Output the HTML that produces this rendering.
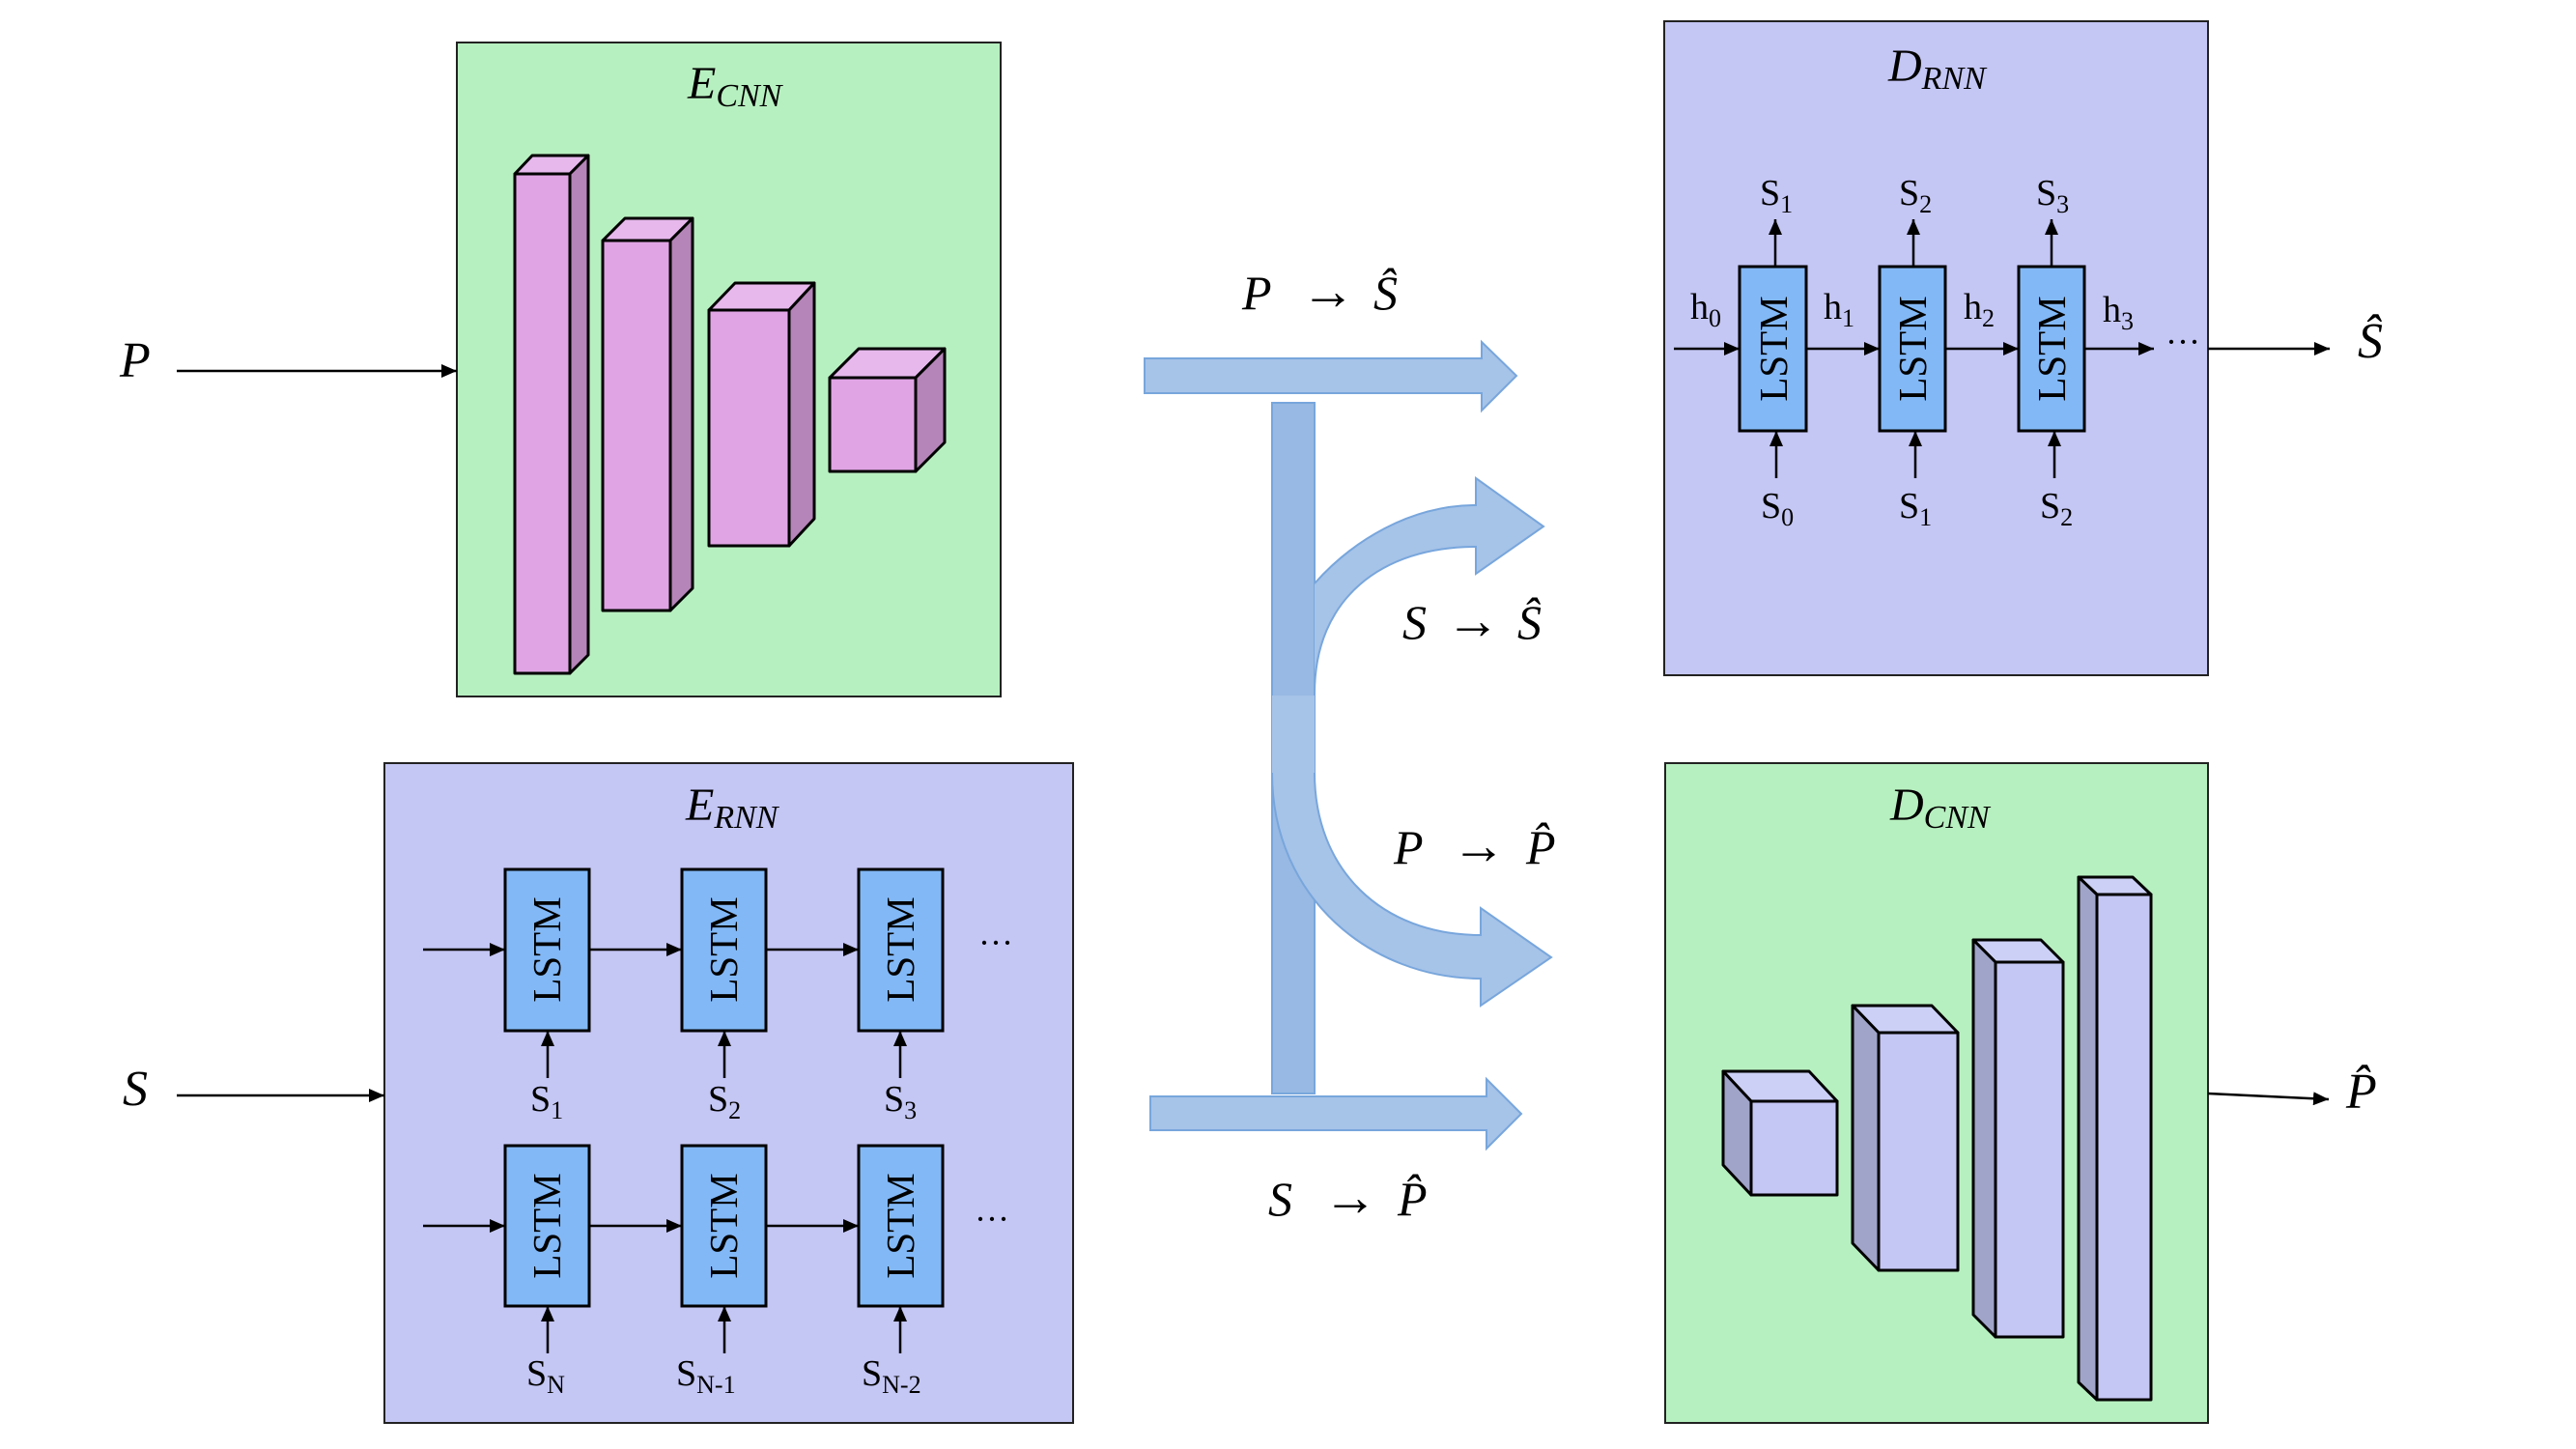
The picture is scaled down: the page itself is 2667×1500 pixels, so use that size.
<!DOCTYPE html>
<html><head><meta charset="utf-8"><style>
html,body{margin:0;padding:0;background:#fff;}
svg{display:block;}
text{font-family:"Liberation Serif",serif;fill:#000;}
.it{font-style:italic;}
</style></head><body>
<svg width="2667" height="1500" viewBox="0 0 2667 1500" xmlns="http://www.w3.org/2000/svg">
<defs>
<marker id="a" viewBox="0 0 10 10" refX="10" refY="5" markerWidth="16" markerHeight="14" orient="auto" markerUnits="userSpaceOnUse" preserveAspectRatio="none"><path d="M0,0 L10,5 L0,10 Z" fill="#000"/></marker>
</defs>

<!-- E_CNN -->
<rect x="473" y="44" width="563" height="677" fill="#b7f0c0" stroke="#222" stroke-width="2"/>
<text x="712" y="102" font-size="48" class="it">E<tspan font-size="34" dy="8">CNN</tspan></text>
<text x="124" y="390" font-size="52" class="it">P</text>
<line x1="183" y1="384" x2="473" y2="384" stroke="#000" stroke-width="2.5" marker-end="url(#a)"/>
<g stroke="#000" stroke-width="3" stroke-linejoin="round">
<polygon points="533,180 551,161 609,161 590,180" fill="#e6b8ec"/>
<polygon points="590,180 609,161 609,678 590,697" fill="#b584b8"/>
<rect x="533" y="180" width="57" height="517" fill="#e0a4e4"/>
<polygon points="624,249 647,226 717,226 694,249" fill="#e6b8ec"/>
<polygon points="694,249 717,226 717,609 694,632" fill="#b584b8"/>
<rect x="624" y="249" width="70" height="383" fill="#e0a4e4"/>
<polygon points="734,321 761,293 843,293 817,321" fill="#e6b8ec"/>
<polygon points="817,321 843,293 843,537 817,565" fill="#b584b8"/>
<rect x="734" y="321" width="83" height="244" fill="#e0a4e4"/>
<polygon points="859,391 889,361 978,361 948,391" fill="#e6b8ec"/>
<polygon points="948,391 978,361 978,458 948,488" fill="#b584b8"/>
<rect x="859" y="391" width="89" height="97" fill="#e0a4e4"/>
</g>

<!-- D_RNN -->
<rect x="1723" y="22" width="563" height="677" fill="#c4c6f4" stroke="#222" stroke-width="2"/>
<text x="1955" y="84" font-size="48" class="it">D<tspan font-size="34" dy="8">RNN</tspan></text>
<g stroke="#000" stroke-width="2.5" fill="none">
<line x1="1733" y1="361" x2="1801" y2="361" marker-end="url(#a)"/>
<line x1="1870" y1="361" x2="1946" y2="361" marker-end="url(#a)"/>
<line x1="2014" y1="361" x2="2090" y2="361" marker-end="url(#a)"/>
<line x1="2158" y1="361" x2="2230" y2="361" marker-end="url(#a)"/>
<line x1="2286" y1="361" x2="2412" y2="361" marker-end="url(#a)"/>
<line x1="1838" y1="276" x2="1838" y2="227" marker-end="url(#a)"/>
<line x1="1981" y1="276" x2="1981" y2="227" marker-end="url(#a)"/>
<line x1="2124" y1="276" x2="2124" y2="227" marker-end="url(#a)"/>
<line x1="1839" y1="495" x2="1839" y2="446" marker-end="url(#a)"/>
<line x1="1983" y1="495" x2="1983" y2="446" marker-end="url(#a)"/>
<line x1="2127" y1="495" x2="2127" y2="446" marker-end="url(#a)"/>
</g>
<g stroke="#000" stroke-width="3" fill="#82b8f6">
<rect x="1801" y="276" width="69" height="170"/>
<rect x="1946" y="276" width="68" height="170"/>
<rect x="2090" y="276" width="68" height="170"/>
</g>
<g font-size="41" text-anchor="middle">
<text transform="translate(1850,361) rotate(-90)">LSTM</text>
<text transform="translate(1994,361) rotate(-90)">LSTM</text>
<text transform="translate(2138,361) rotate(-90)">LSTM</text>
</g>
<text x="2242" y="366" font-size="36">···</text>
<g font-size="38">
<text x="1822" y="212">S<tspan font-size="26" dy="8">1</tspan></text>
<text x="1966" y="212">S<tspan font-size="26" dy="8">2</tspan></text>
<text x="2108" y="212">S<tspan font-size="26" dy="8">3</tspan></text>
<text x="1823" y="536">S<tspan font-size="26" dy="8">0</tspan></text>
<text x="1966" y="536">S<tspan font-size="26" dy="8">1</tspan></text>
<text x="2112" y="536">S<tspan font-size="26" dy="8">2</tspan></text>
<text x="1750" y="330">h<tspan font-size="26" dy="8">0</tspan></text>
<text x="1888" y="330">h<tspan font-size="26" dy="8">1</tspan></text>
<text x="2033" y="330">h<tspan font-size="26" dy="8">2</tspan></text>
<text x="2177" y="333">h<tspan font-size="26" dy="8">3</tspan></text>
</g>
<text x="2441" y="370" font-size="52" class="it">Ŝ</text>

<!-- E_RNN -->
<rect x="398" y="790" width="713" height="683" fill="#c4c6f4" stroke="#222" stroke-width="2"/>
<text x="710" y="849" font-size="48" class="it">E<tspan font-size="34" dy="8">RNN</tspan></text>
<text x="127" y="1144" font-size="52" class="it">S</text>
<g stroke="#000" stroke-width="2.5" fill="none">
<line x1="183" y1="1134" x2="398" y2="1134" marker-end="url(#a)"/>
<line x1="438" y1="983" x2="523" y2="983" marker-end="url(#a)"/>
<line x1="610" y1="983" x2="706" y2="983" marker-end="url(#a)"/>
<line x1="793" y1="983" x2="889" y2="983" marker-end="url(#a)"/>
<line x1="438" y1="1269" x2="523" y2="1269" marker-end="url(#a)"/>
<line x1="610" y1="1269" x2="706" y2="1269" marker-end="url(#a)"/>
<line x1="793" y1="1269" x2="889" y2="1269" marker-end="url(#a)"/>
<line x1="567" y1="1116" x2="567" y2="1067" marker-end="url(#a)"/>
<line x1="750" y1="1116" x2="750" y2="1067" marker-end="url(#a)"/>
<line x1="932" y1="1116" x2="932" y2="1067" marker-end="url(#a)"/>
<line x1="567" y1="1401" x2="567" y2="1352" marker-end="url(#a)"/>
<line x1="750" y1="1401" x2="750" y2="1352" marker-end="url(#a)"/>
<line x1="932" y1="1401" x2="932" y2="1352" marker-end="url(#a)"/>
</g>
<g stroke="#000" stroke-width="3" fill="#82b8f6">
<rect x="523" y="900" width="87" height="167"/>
<rect x="706" y="900" width="87" height="167"/>
<rect x="889" y="900" width="87" height="167"/>
<rect x="523" y="1186" width="87" height="166"/>
<rect x="706" y="1186" width="87" height="166"/>
<rect x="889" y="1186" width="87" height="166"/>
</g>
<g font-size="41" text-anchor="middle">
<text transform="translate(580,983) rotate(-90)">LSTM</text>
<text transform="translate(763,983) rotate(-90)">LSTM</text>
<text transform="translate(946,983) rotate(-90)">LSTM</text>
<text transform="translate(580,1269) rotate(-90)">LSTM</text>
<text transform="translate(763,1269) rotate(-90)">LSTM</text>
<text transform="translate(946,1269) rotate(-90)">LSTM</text>
</g>
<text x="1013" y="988" font-size="36">···</text>
<text x="1009" y="1274" font-size="36">···</text>
<g font-size="38">
<text x="549" y="1150">S<tspan font-size="26" dy="8">1</tspan></text>
<text x="733" y="1150">S<tspan font-size="26" dy="8">2</tspan></text>
<text x="915" y="1150">S<tspan font-size="26" dy="8">3</tspan></text>
<text x="545" y="1434">S<tspan font-size="26" dy="8">N</tspan></text>
<text x="700" y="1434">S<tspan font-size="26" dy="8">N-1</tspan></text>
<text x="892" y="1434">S<tspan font-size="26" dy="8">N-2</tspan></text>
</g>

<!-- D_CNN -->
<rect x="1724" y="790" width="562" height="683" fill="#b7f0c0" stroke="#222" stroke-width="2"/>
<text x="1957" y="849" font-size="48" class="it">D<tspan font-size="34" dy="8">CNN</tspan></text>
<g stroke="#000" stroke-width="3" stroke-linejoin="round">
<polygon points="1784,1109 1873,1109 1902,1140 1813,1140" fill="#ccd0f6"/>
<polygon points="1784,1109 1813,1140 1813,1237 1784,1206" fill="#a0a4c8"/>
<rect x="1813" y="1140" width="89" height="97" fill="#c4c6f4"/>
<polygon points="1918,1041 2000,1041 2027,1069 1945,1069" fill="#ccd0f6"/>
<polygon points="1918,1041 1945,1069 1945,1315 1918,1287" fill="#a0a4c8"/>
<rect x="1945" y="1069" width="82" height="246" fill="#c4c6f4"/>
<polygon points="2043,973 2113,973 2136,996 2066,996" fill="#ccd0f6"/>
<polygon points="2043,973 2066,996 2066,1384 2043,1361" fill="#a0a4c8"/>
<rect x="2066" y="996" width="70" height="388" fill="#c4c6f4"/>
<polygon points="2152,908 2208,908 2227,926 2171,926" fill="#ccd0f6"/>
<polygon points="2152,908 2171,926 2171,1449 2152,1431" fill="#a0a4c8"/>
<rect x="2171" y="926" width="56" height="523" fill="#c4c6f4"/>
</g>
<line x1="2286" y1="1132" x2="2411" y2="1138" stroke="#000" stroke-width="2.5" marker-end="url(#a)"/>
<text x="2429" y="1147" font-size="52" class="it">P̂</text>

<!-- middle blue arrows -->
<g fill="#a6c3e8" stroke="#78a6dc" stroke-width="2">
<rect x="1317" y="417" width="44" height="715" fill="#97b9e3"/>
<path d="M1185,371 L1534,371 L1534,354 L1570,389 L1534,425 L1534,407 L1185,407 Z"/>
<path d="M1191,1135 L1539,1135 L1539,1117 L1575,1153 L1539,1189 L1539,1170 L1191,1170 Z"/>
<path d="M1361,604 C1400,560 1460,523 1528,523 L1528,495 L1598,545 L1528,594 L1528,566 C1430,566 1361,620 1361,718 Z" stroke="none"/>
<path d="M1361,604 C1400,560 1460,523 1528,523 L1528,495 L1598,545 L1528,594 L1528,566 C1430,566 1361,620 1361,718" fill="none"/>
<path d="M1317,720 L1317,800 C1317,930 1420,1013 1533,1013 L1533,1041 L1606,991 L1533,940 L1533,968 C1430,968 1361,900 1361,800 L1361,720 Z" stroke="none"/>
<path d="M1317,800 C1317,930 1420,1013 1533,1013 L1533,1041 L1606,991 L1533,940 L1533,968 C1430,968 1361,900 1361,800" fill="none"/>
</g>
<g font-size="50">
<text x="1286" y="320" class="it">P</text><text x="1347" y="320" font-size="56">→</text><text x="1422" y="320" class="it">Ŝ</text>
<text x="1452" y="661" class="it">S</text><text x="1497" y="661" font-size="56">→</text><text x="1571" y="661" class="it">Ŝ</text>
<text x="1443" y="894" class="it">P</text><text x="1503" y="894" font-size="56">→</text><text x="1580" y="894" class="it">P̂</text>
<text x="1313" y="1258" class="it">S</text><text x="1370" y="1258" font-size="56">→</text><text x="1447" y="1258" class="it">P̂</text>
</g>
</svg>
</body></html>
